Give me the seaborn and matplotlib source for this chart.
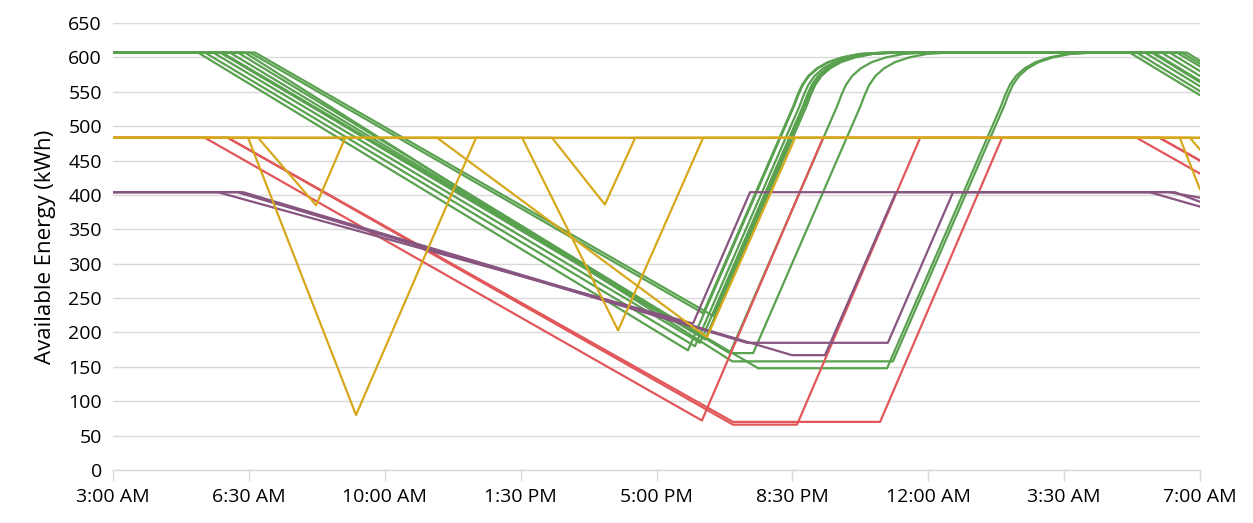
import pandas as pd
import seaborn as sns
import matplotlib.pyplot as plt

# hours after 3:00 AM, available energy in kWh
green_paths = [
    [(0, 607), (2.19, 607), (14.81, 174)],
    [(0, 607), (2.37, 607), (14.99, 180)],
    [(0, 607), (2.58, 607), (15.12, 185)],
    [(0, 607), (2.76, 607), (15.25, 190)],
    [(0, 607), (3.53, 607), (15.20, 228)],
    [(0, 607), (3.66, 607), (15.46, 224)],
    [(0, 607), (3.01, 607), (15.89, 170)],
    [(0, 607), (3.22, 607), (15.89, 170), (16.49, 170)],
    [(0, 607), (3.40, 607), (15.95, 158), (20.09, 158)],
    [(0, 607), (2.81, 607), (16.62, 148), (19.94, 148)],
]
# hour when fast charging reaches ~530 kWh and the slow top-up starts
green_bend = [17.55, 17.69, 17.78, 17.87, 17.53, 17.82, 18.66, 19.26, 22.96, 22.88]
green_next_leave = [26.19, 26.37, 26.58, 26.76, 27.53, 27.66, 27.01, 27.22, 27.40, 26.81]
green_end = [545, 551, 558, 564, 591, 595, 573, 580, 587, 566]
taper_dt = [0, 0.1, 0.22, 0.38, 0.6, 0.88, 1.25, 1.7, 2.3]
taper_kwh = [530, 545, 560, 573, 584, 593, 600, 605, 607]

red_paths = [
    [(0, 483), (2.37, 483), (15.17, 72), (18.29, 483), (26.37, 483), (28, 431)],
    [(0, 483), (2.96, 483), (15.97, 66), (17.62, 66), (20.79, 483), (26.96, 483), (28, 450)],
    [(0, 483), (2.96, 483), (15.97, 70), (19.76, 70), (22.90, 483), (26.96, 483), (28, 450)],
]

purple_paths = [
    [(0, 404), (2.70, 404), (14.94, 213), (16.41, 404), (26.70, 404), (28, 383)],
    [(0, 404), (3.20, 404), (16.33, 185), (19.96, 185), (21.64, 404), (27.20, 404), (28, 396)],
    [(0, 404), (3.35, 404), (17.49, 167), (18.34, 167), (20.17, 404), (27.35, 404), (28, 390)],
]

yellow_paths = [
    [(0, 483), (3.48, 483), (6.26, 80), (9.35, 483), (27.48, 483), (28, 408)],
    [(0, 483), (3.74, 483), (5.23, 385), (5.98, 483), (27.74, 483), (28, 466)],
    [(0, 483), (8.35, 483), (15.30, 193), (17.57, 483), (28, 483)],
    [(0, 483), (10.54, 483), (13.01, 203), (15.20, 483), (28, 483)],
    [(0, 483), (11.31, 483), (12.67, 386), (13.45, 483), (28, 483)],
]

x_ticks = [0, 3.5, 7, 10.5, 14, 17.5, 21, 24.5, 28]
x_labels = ["3:00 AM", "6:30 AM", "10:00 AM", "1:30 PM", "5:00 PM",
            "8:30 PM", "12:00 AM", "3:30 AM", "7:00 AM"]

colors = {"green": "#59A14F", "red": "#E15759", "purple": "#87557F", "yellow": "#D6A81C"}


def build_frame() -> pd.DataFrame:
    rows = []
    for i, path in enumerate(green_paths):
        pts = list(path)
        pts += [(green_bend[i] + dt, e) for dt, e in zip(taper_dt, taper_kwh)]
        pts += [(green_next_leave[i], 607), (28, green_end[i])]
        rows += [(f"g{i}", "green", h, e) for h, e in pts]
    for name, paths in [("red", red_paths), ("purple", purple_paths), ("yellow", yellow_paths)]:
        for i, path in enumerate(paths):
            rows += [(f"{name[0]}{i}", name, h, e) for h, e in path]
    return pd.DataFrame(rows, columns=["line", "fleet", "hour", "energy"])


def main() -> None:
    df = build_frame()
    sns.set_theme(style="white")
    plt.rcParams["font.family"] = ["Open Sans", "DejaVu Sans"]

    fig, ax = plt.subplots(figsize=(12.53, 5.23), dpi=100)
    fig.subplots_adjust(left=0.0902, right=0.9577, bottom=0.1013, top=0.956)

    palette = {ln: colors[f] for ln, f in df[["line", "fleet"]].drop_duplicates().values}
    sns.lineplot(data=df, x="hour", y="energy", hue="line", palette=palette,
                 estimator=None, sort=False, legend=False, linewidth=1.6, ax=ax)

    ax.set_xlim(0, 28)
    ax.set_ylim(0, 650)
    ax.set_yticks(range(0, 651, 50))
    ax.set_xticks(x_ticks)
    ax.set_xticklabels(x_labels)
    ax.yaxis.grid(True, color="#d9d9d9", linewidth=1)
    ax.set_axisbelow(True)
    for side in ["left", "top", "right"]:
        ax.spines[side].set_visible(False)
    ax.spines["bottom"].set_color("#d9d9d9")
    ax.spines["bottom"].set_linewidth(1)
    ax.tick_params(axis="x", length=8, width=1, color="#d9d9d9", labelsize=14,
                   labelcolor="black", pad=5, bottom=True)
    ax.tick_params(axis="y", length=0, labelsize=14, labelcolor="black", pad=8)
    ax.set_xlabel("")
    ax.set_ylabel("Available Energy (kWh)", fontsize=16, color="black", labelpad=9)

    fig.savefig("out.png", dpi=100)


if __name__ == "__main__":
    main()
